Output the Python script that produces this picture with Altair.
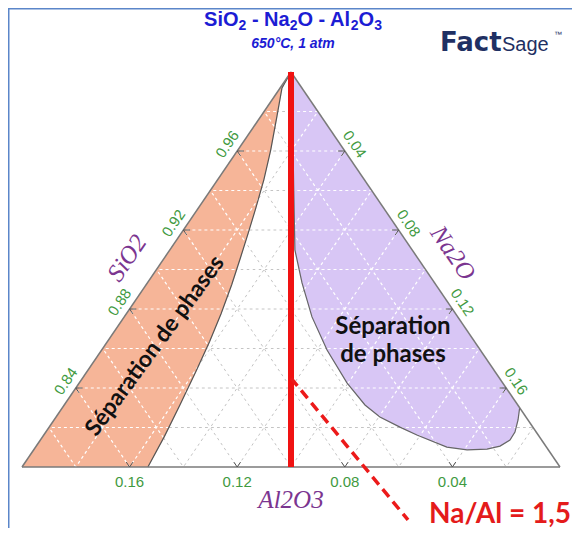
import altair as alt
import pandas as pd

# ---------------- data (mole fractions) ----------------
SPAN = 0.2  # zoomed corner: SiO2 from 0.80 to 1.00

grid_levels = [0.02, 0.04, 0.06, 0.08, 0.10, 0.12, 0.14, 0.16, 0.18]
sio2_ticks = [0.84, 0.88, 0.92, 0.96]
na2o_ticks = [0.04, 0.08, 0.12, 0.16]
al2o3_ticks = [0.16, 0.12, 0.08, 0.04]

# SiO2-rich / Al2O3 side miscibility gap boundary (apex -> base)
salmon_na2o = [0.0, 0.0007, 0.0059, 0.0122, 0.0172, 0.0215, 0.0248, 0.0283,
               0.0318, 0.0352, 0.0380, 0.0405, 0.0430, 0.0452, 0.0468]
salmon_al2o3 = [0.0, 0.0074, 0.0163, 0.0273, 0.0374, 0.0479, 0.0565, 0.0660,
                0.0759, 0.0872, 0.0985, 0.1113, 0.1256, 0.1393, 0.1532]

# Na2O side miscibility gap boundary (apex -> Na2O edge)
lav_na2o = [0.0, 0.0078, 0.0205, 0.0335, 0.0465, 0.0575, 0.0698, 0.0838, 0.0995,
            0.1118, 0.1204, 0.1304, 0.1387, 0.1529, 0.1611, 0.1683, 0.1724,
            0.1746, 0.1744, 0.1725, 0.1700]
lav_al2o3 = [0.0, 0.0063, 0.0190, 0.0313, 0.0436, 0.0493, 0.0542, 0.0570, 0.0579,
             0.0568, 0.0543, 0.0494, 0.0451, 0.0370, 0.0302, 0.0226, 0.0170,
             0.0118, 0.0079, 0.0037, 0.0]

# Na/Al join (red) and pointer (dashed)
red_na2o = [0.0, 0.1]
red_al2o3 = [0.0, 0.1]
dash_na2o = [0.0775, 0.1569]
dash_al2o3 = [0.0775, 0.0699]

# annotation anchors (composition)
sal_label = ("Séparation de phases", 0.0188, 0.1199)
lav_labels = [("Séparation", 0.1025, 0.0267), ("de phases", 0.1096, 0.0338)]
ratio_label = ("Na/Al = 1,5", 0.1899, 0.0345)
sio2_title = ("SiO2", 0.0, 0.103)
na2o_title = ("Na2O", 0.1007, 0.0)
al2o3_title = ("Al2O3", 0.1, 0.1)

# title pieces: (text, is_subscript, leading space)
title_parts = [("SiO", False, False), ("2", True, False), ("- Na", False, True), ("2", True, False),
               ("O - Al", False, False), ("2", True, False), ("O", False, False), ("3", True, False)]
subtitle = "650°C, 1 atm"


def xy(na, al):
    return 0.5 + (na - al) / (2 * SPAN), 1 - (na + al) / SPAN


def pts_df(na_list, al_list):
    rows = []
    for i, (n, a) in enumerate(zip(na_list, al_list)):
        x, y = xy(n, a)
        rows.append({"i": i, "x": x, "y": y})
    return pd.DataFrame(rows)


def seg_df(segs):
    rows = []
    for (n1, a1), (n2, a2) in segs:
        x, y = xy(n1, a1)
        x2, y2 = xy(n2, a2)
        rows.append({"x": x, "y": y, "x2": x2, "y2": y2})
    return pd.DataFrame(rows)


def lbl_df(items):
    rows = []
    for t, n, a in items:
        x, y = xy(n, a)
        rows.append({"t": t, "x": x, "y": y})
    return pd.DataFrame(rows)


X = alt.X("x:Q", scale=alt.Scale(domain=[0, 1], range=[14, 552], nice=False, zero=False), axis=None)
Y = alt.Y("y:Q", scale=alt.Scale(domain=[0, 1], range=[459, 64], nice=False, zero=False), axis=None)

# grid segments
grid = []
for g in grid_levels:
    grid.append(((0, g), (g, 0)))            # constant SiO2
    grid.append(((0, g), (SPAN - g, g)))     # constant Al2O3
    grid.append(((g, 0), (g, SPAN - g)))     # constant Na2O
grid_df = seg_df(grid)

tri_df = seg_df([((0, 0), (0, SPAN)), ((0, SPAN), (SPAN, 0)), ((SPAN, 0), (0, 0))])

d = 0.0025
ticks = []
for s in sio2_ticks:
    a = 1 - s
    ticks += [((0, a), (d, a - d)), ((0, a), (d, a))]
for t in na2o_ticks:
    ticks += [((t, 0), (t - d, d)), ((t, 0), (t, d))]
for c in al2o3_ticks:
    ticks += [((SPAN - c, c), (SPAN - c - d, c)), ((SPAN - c, c), (SPAN - c, c - d))]
tick_df = seg_df(ticks)

left_lbl = lbl_df([(f"{s:.2f}", 0, 1 - s) for s in sio2_ticks])
right_lbl = lbl_df([(f"{t:.2f}", t, 0) for t in na2o_ticks])
bottom_lbl = lbl_df([(f"{c:.2f}", SPAN - c, c) for c in al2o3_ticks])

salmon_poly = pts_df([0.0] + salmon_na2o, [SPAN] + salmon_al2o3)
lav_poly = pts_df(lav_na2o, lav_al2o3)
salmon_line = pts_df(salmon_na2o, salmon_al2o3)
lav_line = pts_df(lav_na2o, lav_al2o3)

red_df = seg_df([((red_na2o[0], red_al2o3[0]), (red_na2o[1], red_al2o3[1]))])
dash_df = seg_df([((dash_na2o[0], dash_al2o3[0]), (dash_na2o[1], dash_al2o3[1]))])

EDGE = 55.74

layers = []

# frame
frame_df = pd.DataFrame({"k": [0]})
layers.append(alt.Chart(frame_df).mark_rule(stroke="#5b86c9", strokeWidth=2).encode(
    x=alt.value(0.5), y=alt.value(0), y2=alt.value(520)))
layers.append(alt.Chart(frame_df).mark_rule(stroke="#5b86c9", strokeWidth=2).encode(
    x=alt.value(0), x2=alt.value(564), y=alt.value(0.5)))

# grey dotted grid
layers.append(alt.Chart(grid_df).mark_rule(stroke="#c4c4c4", strokeWidth=1, strokeDash=[3, 3]).encode(
    x=X, y=Y, x2="x2:Q", y2="y2:Q"))

# filled regions
layers.append(alt.Chart(salmon_poly).mark_line(fill="#F6B598", stroke="#F6B598", strokeWidth=0.5).encode(
    x=X, y=Y, order="i:Q"))
layers.append(alt.Chart(lav_poly).mark_line(fill="#D8C6F5", stroke="#D8C6F5", strokeWidth=0.5).encode(
    x=X, y=Y, order="i:Q"))

# white grid on fills
layers.append(alt.Chart(grid_df).mark_rule(stroke="white", strokeWidth=1.2, strokeDash=[3, 3],
                                           strokeDashOffset=3).encode(
    x=X, y=Y, x2="x2:Q", y2="y2:Q"))

# boundaries
layers.append(alt.Chart(salmon_line).mark_line(stroke="#555555", strokeWidth=1.2).encode(
    x=X, y=Y, order="i:Q"))
layers.append(alt.Chart(lav_line).mark_line(stroke="#666666", strokeWidth=1.2).encode(
    x=X, y=Y, order="i:Q"))

# triangle outline + ticks
layers.append(alt.Chart(tri_df).mark_rule(stroke="#7a7a7a", strokeWidth=1.5).encode(
    x=X, y=Y, x2="x2:Q", y2="y2:Q"))
layers.append(alt.Chart(tick_df).mark_rule(stroke="#555555", strokeWidth=1).encode(
    x=X, y=Y, x2="x2:Q", y2="y2:Q"))

# tick labels
tick_style = dict(font="Liberation Sans", fontSize=15, color="#3f9a3f", align="center", baseline="middle")
layers.append(alt.Chart(left_lbl).mark_text(angle=360 - EDGE, dy=-12, **tick_style).encode(x=X, y=Y, text="t:N"))
layers.append(alt.Chart(right_lbl).mark_text(angle=EDGE, dy=-12, **tick_style).encode(x=X, y=Y, text="t:N"))
layers.append(alt.Chart(bottom_lbl).mark_text(dy=15, **tick_style).encode(x=X, y=Y, text="t:N"))

# axis titles
ax_style = dict(font="Liberation Serif", fontStyle="italic", fontSize=25, color="#7b3590",
                align="center", baseline="middle")
layers.append(alt.Chart(lbl_df([sio2_title])).mark_text(angle=360 - EDGE, dy=-31, **ax_style).encode(
    x=X, y=Y, text="t:N"))
layers.append(alt.Chart(lbl_df([na2o_title])).mark_text(angle=EDGE, dy=-32, **ax_style).encode(
    x=X, y=Y, text="t:N"))
layers.append(alt.Chart(lbl_df([al2o3_title])).mark_text(dy=33, **ax_style).encode(
    x=X, y=Y, text="t:N"))

# red lines
layers.append(alt.Chart(red_df).mark_rule(stroke="#f01212", strokeWidth=6).encode(
    x=X, y=Y, x2="x2:Q", y2="y2:Q"))
layers.append(alt.Chart(dash_df).mark_rule(stroke="#ec1a1a", strokeWidth=3.5, strokeDash=[10, 6]).encode(
    x=X, y=Y, x2="x2:Q", y2="y2:Q"))

# region labels
reg_style = dict(font="Lato", fontWeight="bold", color="#111111", align="center", baseline="middle")
layers.append(alt.Chart(lbl_df([sal_label])).mark_text(angle=306.4, fontSize=23, **reg_style).encode(
    x=X, y=Y, text="t:N"))
layers.append(alt.Chart(lbl_df(lav_labels)).mark_text(fontSize=24, **reg_style).encode(
    x=X, y=Y, text="t:N"))
layers.append(alt.Chart(lbl_df([ratio_label])).mark_text(font="Lato", fontWeight="bold", fontSize=28,
                                                         color="#e41b1b", align="center",
                                                         baseline="middle").encode(
    x=X, y=Y, text="t:N"))

# title built from pieces (Arial-Bold metrics) so subscripts are real subscripts
EM = {"S": .667, "i": .278, "O": .778, " ": .278, "-": .333, "N": .722, "a": .556,
      "A": .722, "l": .278, "2": .556, "3": .556}
MAIN, SUB = 20, 14
pieces = []
for txt, sub, lead in title_parts:
    size = SUB if sub else MAIN
    pieces.append((txt, sub, EM[" "] * size if lead else 0.0, sum(EM[ch] for ch in txt) * size))
total = sum(p[2] + p[3] for p in pieces)
xpos = 285 - total / 2
for txt, sub, lead_w, w in pieces:
    xpos += lead_w
    layers.append(alt.Chart(pd.DataFrame({"t": [txt]})).mark_text(
        font="Liberation Sans", fontWeight="bold", fontSize=SUB if sub else MAIN, color="#1c1cd4",
        align="left", baseline="alphabetic").encode(
        x=alt.value(xpos), y=alt.value(22 if sub else 18), text="t:N"))
    xpos += w

layers.append(alt.Chart(pd.DataFrame({"t": [subtitle]})).mark_text(
    font="Liberation Sans", fontWeight="bold", fontStyle="italic", fontSize=14, color="#1c1cd4",
    align="center", baseline="alphabetic").encode(x=alt.value(285), y=alt.value(40), text="t:N"))

# logo
layers.append(alt.Chart(pd.DataFrame({"t": ["Fact"]})).mark_text(
    font="DejaVu Sans", fontWeight="bold", fontSize=26, color="#1f3063", align="left",
    baseline="alphabetic").encode(x=alt.value(432), y=alt.value(43), text="t:N"))
layers.append(alt.Chart(pd.DataFrame({"t": ["Sage"]})).mark_text(
    font="Liberation Sans", fontSize=20, color="#1f3063", align="left",
    baseline="alphabetic").encode(x=alt.value(494), y=alt.value(43), text="t:N"))
layers.append(alt.Chart(pd.DataFrame({"t": ["™"]})).mark_text(
    font="Liberation Sans", fontSize=8, color="#1f3063", align="left",
    baseline="alphabetic").encode(x=alt.value(546), y=alt.value(29), text="t:N"))

chart = alt.layer(*layers).properties(
    width=564, height=520, padding=0, autosize=alt.AutoSizeParams(type="none"),
    background="white"
).configure_view(strokeWidth=0)

chart.save("out.html", embed_options={"renderer": "svg", "actions": False})
